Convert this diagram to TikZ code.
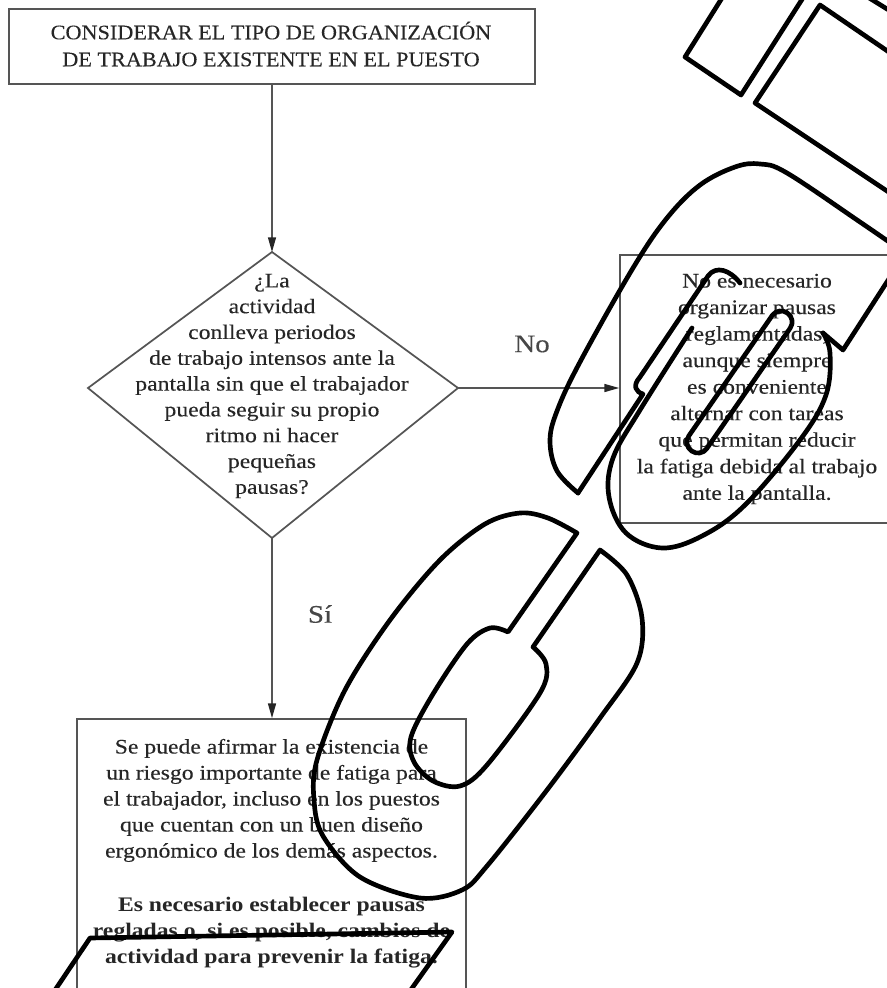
\documentclass[tikz,border=0pt]{standalone}
\usepackage{fontspec}
\setmainfont{Liberation Serif}[FakeStretch=1.145, UprightFeatures={FakeBold=0.25}]
\newfontfamily\capsfont{Liberation Serif}[FakeStretch=1.075, FakeBold=0.2]
\usetikzlibrary{arrows.meta}
\definecolor{ink}{HTML}{262626}
\definecolor{frame}{HTML}{555555}
\begin{document}
\begin{tikzpicture}[x=0.75pt,y=-0.75pt,
  frameline/.style={draw=frame, line width=1.3pt},
  boxnode/.style={frameline, inner sep=0pt},
  bodytext/.style={text=ink, align=center, inner sep=0pt, font=\fontsize{15.5}{19.5}\selectfont},
  conn/.style={draw=frame, line width=1pt, -{Triangle[length=11pt,width=6pt,color=black!85]}},
  branch/.style={text=ink!85, inner sep=0pt, font=\fontsize{19}{22}\selectfont},
  overlay/.style={draw=black, line width=3.5pt, line cap=round, line join=round}]

\useasboundingbox (0,0) rectangle (886,988);

% top box
\node[boxnode, minimum width=394.5pt, minimum height=56.25pt] (topbox) at (272,46.5) {};
\node[bodytext, font=\capsfont\fontsize{15.5}{20.25}\selectfont] (toptext) at (271,44) {CONSIDERAR EL TIPO DE ORGANIZACIÓN\\DE TRABAJO EXISTENTE EN EL PUESTO};

% decision diamond
\coordinate (dT) at (272,252);
\coordinate (dR) at (458,388);
\coordinate (dB) at (272,538);
\coordinate (dL) at (88,388);
\draw[frameline] (dT) -- (dR) -- (dB) -- (dL) -- cycle;
\node[bodytext, font=\fontsize{15.5}{19.35}\selectfont] (question) at (272,386) {¿La\\actividad\\conlleva periodos\\de trabajo intensos ante la\\pantalla sin que el trabajador\\pueda seguir su propio\\ritmo ni hacer\\pequeñas\\pausas?};

% right box
\node[boxnode, minimum width=206.25pt, minimum height=201pt] (rightbox) at (757.5,389) {};
\node[bodytext, font=\fontsize{15.5}{19.9}\selectfont] (righttext) at (757,389) {No es necesario\\organizar pausas\\reglamentadas,\\aunque siempre\\es conveniente\\alternar con tareas\\que permitan reducir\\la fatiga debida al trabajo\\ante la pantalla.};

% bottom box
\node[boxnode, minimum width=291.75pt, minimum height=211.5pt] (bottombox) at (271.5,860) {};
\node[bodytext] (bottomtext) at (271.5,853.5) {Se puede afirmar la existencia de\\un riesgo importante de fatiga para\\el trabajador, incluso en los puestos\\que cuentan con un buen diseño\\ergonómico de los demás aspectos.\\[21pt]\textbf{Es necesario establecer pausas}\\\textbf{regladas o, si es posible, cambios de}\\\textbf{actividad para prevenir la fatiga.}};

% connectors
\draw[conn] (topbox.south) -- (dT);
\draw[conn] (dR) -- (dR -| rightbox.west);
\draw[conn] (dB) -- (dB |- bottombox.north);
\node[branch] (nolabel) at (532,344) {No};
\node[branch] (silabel) at (320,614) {Sí};

% overlay strokes
\draw[overlay] (727,-10) -- (685,57) -- (741,95) -- (808,-10);
\draw[overlay] (905,63) -- (820,5) -- (755,103) -- (905,203);
\draw[overlay] (866,-4) -- (900,17);
\draw[overlay] plot[smooth, tension=0.6] coordinates {(578,493) (557,471) (550,441) (557,411) (580,362) (633,268) (667,218) (700,185) (735,167) (760,164) (787,173) (860,222) (905,253)};
\draw[overlay] (905,254) -- (843,350) -- (823,333);
\draw[overlay] plot[smooth, tension=0.6] coordinates {(823,333) (830,353) (826,395) (800,440) (745,505) (702,536) (662,548) (626,533) (609,497) (613,458) (640,410) (692,328)};
\draw[overlay] (578,493) -- (643,394) .. controls (636,392) and (632,386) .. (640,377) -- (708,276) .. controls (716,265) and (730,270) .. (740,283);
\draw[overlay, rounded corners=8pt] (796.3,319.3) -- (778.3,306.7) -- (682.7,444.7) -- (700.7,457.3) -- cycle;
\draw[overlay] plot[smooth, tension=0.55] coordinates {(577,533) (548,518) (520,513) (485,524) (440,560) (390,620) (345,690) (317,760) (314,800) (323,836) (360,877) (420,898) (462,890) (487,866) (547,790) (600,718) (637,663) (642,618) (627,575) (600,550)} -- (533,647) -- plot[smooth, tension=0.55] coordinates {(533,647) (546,664) (540,693) (487,765) (460,786) (433,781) (414,762) (411,737) (433,694) (467,644) (490,628) (508,632)} -- cycle;
\draw[overlay] (45,1005) -- (90,938) -- (452,932) -- (400,1005);
\end{tikzpicture}
\end{document}
